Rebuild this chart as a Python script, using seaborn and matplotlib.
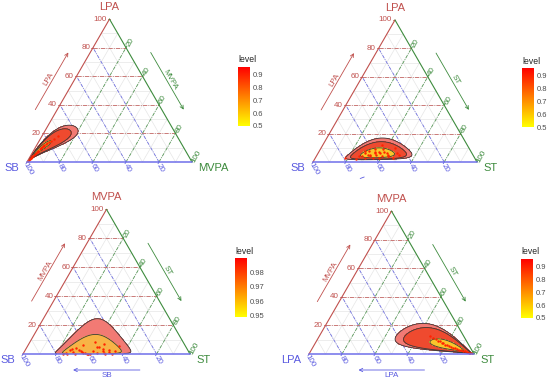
import numpy as np
import pandas as pd
import seaborn as sns
import matplotlib
matplotlib.use("Agg")
from matplotlib import pyplot as plt
from matplotlib.colors import LinearSegmentedColormap, Normalize
from matplotlib.colorbar import ColorbarBase

sns.set_theme(style="white")
plt.rcParams["font.family"] = ["Liberation Sans", "DejaVu Sans"]

# compositions in % (top part, right part; left part is the remainder)
# panel 1: SB / LPA / MVPA
lpa_1 = [1.0, 1.5, 2.0, 2.5, 3.0, 3.5, 4.0, 5.0, 5.5, 6.0, 7.0, 7.5, 8.0, 9.0, 9.5,
         10.0, 10.5, 11.0, 11.5, 12.0, 12.5, 13.0, 14.0, 15.0, 16.0, 18.0]
mvpa_1 = [0.3, 0.5, 0.6, 0.9, 0.9, 1.2, 1.3, 1.7, 1.8, 2.2, 2.4, 2.8, 2.7, 3.2, 3.6,
          3.4, 3.9, 4.2, 4.6, 4.6, 5.4, 5.4, 6.4, 7.2, 8.2, 10.0]
# panel 2: SB / LPA / ST
lpa_2 = [2, 3, 4, 3, 5, 6, 4, 7, 5, 8, 6, 4, 9, 5, 7, 3, 6, 10, 5, 8, 4, 6, 7, 12, 3, 5, 9, 6, 4, 2.5]
st_2 = [25, 30, 28, 35, 32, 38, 40, 34, 36, 30, 42, 44, 38, 31, 40, 47, 35, 45, 50, 28,
        33, 29, 37, 36, 39, 43, 33, 48, 26, 18]
# panel 3: SB / MVPA / ST
mvpa_3 = [0.3, 1.0, 2.5, 0.2, 4.0, 1.5, 0.15, 6.0, 2.0, 0.4, 3.0, 0.2, 8.0, 0.6, 2.2, 5.0,
          1.0, 0.15, 3.5, 1.8, 7.0, 0.25, 2.8, 1.4, 4.5, 0.2, 2.0, 1.1, 3.2, 0.9, 5.5, 0.3]
st_3 = [24, 25, 27, 26, 30, 29, 31, 33, 34, 36, 32, 38, 39, 37, 41, 42, 44, 40, 46, 47,
        45, 49, 50, 51, 43, 53, 54, 35, 28, 48, 55, 39]
# panel 4: LPA / MVPA / ST
lpa_4 = [1.0, 2.0, 2.5, 3.5, 4.5, 5.5, 6.5, 7.5, 8.5, 9.5, 10.5, 11.5, 12.5, 13.5, 14.0,
         15.0, 15.5, 16.5, 17.0, 18.0, 19.0, 20.0]
mvpa_4 = [0.4, 0.7, 1.0, 1.3, 1.8, 2.1, 2.6, 3.0, 3.5, 3.9, 4.4, 4.9, 5.5, 6.0, 6.6,
          7.4, 8.0, 8.8, 9.4, 10.4, 11.4, 12.8]

ticks = [20, 40, 60, 80, 100]
level_ticks_a = [0.5, 0.6, 0.7, 0.8, 0.9]
level_ticks_b = [0.95, 0.96, 0.97, 0.98]

H = np.sqrt(3) / 2
RED, GREEN, BLUE = "#C0504D", "#3D8B3D", "#5A5AE0"
BW_ADJ = 2.2

top_p, right_p = np.array(lpa_1), np.array(mvpa_1)
p1 = dict(left=100 - top_p - right_p, top=top_p, right=right_p)
top_p, right_p = np.array(lpa_2), np.array(st_2)
p2 = dict(left=100 - top_p - right_p, top=top_p, right=right_p)
top_p, right_p = np.array(mvpa_3), np.array(st_3)
p3 = dict(left=100 - top_p - right_p, top=top_p, right=right_p)
left_p, top_p = np.array(lpa_4), np.array(mvpa_4)
p4 = dict(left=left_p, top=top_p, right=100 - left_p - top_p)

panels = [
    dict(data=p1, x0=27, y0=162, s=165, names=("SB", "LPA", "MVPA"), arrow=None,
         cuts=[0.30, 0.40, 0.82], cols=["#F27A74", "#EF4A2F", "#F9C62B"],
         cbar=(238, 67, 12, 59), lev=level_ticks_a, lim=(0.5, 0.954)),
    dict(data=p2, x0=313, y0=162, s=164, names=("SB", "LPA", "ST"), arrow="tiny",
         cuts=[0.18, 0.30, 0.65], cols=["#F27A74", "#EF4A2F", "#F9C62B"],
         cbar=(522, 68, 12, 59), lev=level_ticks_a, lim=(0.5, 0.954)),
    dict(data=p3, x0=23, y0=354, s=167, names=("SB", "MVPA", "ST"), arrow="SB",
         cuts=[0.28, 0.50], cols=["#F27A74", "#F8B446"],
         cbar=(235, 258, 12, 59), lev=level_ticks_b, lim=(0.9493, 0.99)),
    dict(data=p4, x0=309, y0=354, s=165, names=("LPA", "MVPA", "ST"), arrow="LPA",
         cuts=[0.32, 0.42, 0.80], cols=["#F27A74", "#EF4A2F", "#F9C62B"],
         cbar=(521, 259, 12, 59), lev=level_ticks_a, lim=(0.5, 0.954)),
]


def ilr(left, top, right):
    z1 = np.sqrt(0.5) * np.log(right / left)
    z2 = np.sqrt(2 / 3) * np.log(top / np.sqrt(left * right))
    return z1, z2


def bw(v):
    q75, q25 = np.percentile(v, [75, 25])
    return BW_ADJ * 1.06 * min(np.std(v, ddof=1), (q75 - q25) / 1.34) * len(v) ** -0.2


def pt(p, top, right):
    return p["x0"] + p["s"] * (right + top / 2), p["y0"] - p["s"] * H * top


fig = plt.figure(figsize=(5.5, 3.83), dpi=100)
ax = fig.add_axes([0, 0, 1, 1])
cmap = LinearSegmentedColormap.from_list("lev", ["#FFFF00", "#FF0000"])

for p in panels:
    x0, y0, s = p["x0"], p["y0"], p["s"]
    # background grid every 10
    for v in np.arange(0.1, 1.0, 0.1):
        for a, b in [(pt(p, v, 0), pt(p, v, 1 - v)), (pt(p, 0, v), pt(p, 1 - v, v)),
                     (pt(p, 0, 1 - v), pt(p, 1 - v, 0))]:
            ax.plot([a[0], b[0]], [a[1], b[1]], color="#E6E6E6", lw=0.5, zorder=1)
    # major grid
    for t in ticks[:-1]:
        v = t / 100
        a, b = pt(p, v, 0), pt(p, v, 1 - v)
        ax.plot([a[0], b[0]], [a[1], b[1]], color=RED, lw=0.6, ls=(0, (5, 1.5, 1, 1.5)), alpha=0.85, zorder=1.5)
        a, b = pt(p, 0, v), pt(p, 1 - v, v)
        ax.plot([a[0], b[0]], [a[1], b[1]], color=GREEN, lw=0.6, ls=(0, (4, 1.5, 1, 1.5)), alpha=0.85, zorder=1.5)
        a, b = pt(p, 0, 1 - v), pt(p, 1 - v, 0)
        ax.plot([a[0], b[0]], [a[1], b[1]], color=BLUE, lw=0.6, ls=(0, (4, 1.5, 1, 1.5)), alpha=0.85, zorder=1.5)

    # density in log-ratio space, contoured on the triangle
    d = p["data"]
    z1, z2 = ilr(d["left"], d["top"], d["right"])
    h1, h2 = bw(z1), bw(z2)
    xs = np.linspace(x0, x0 + s, 420)
    ys = np.linspace(y0 - s * H, y0, 370)
    X, Y = np.meshgrid(xs, ys)
    T = (y0 - Y) / (s * H)
    R = (X - x0) / s - T / 2
    L = 1 - T - R
    inside = (T > 1e-7) & (R > 1e-7) & (L > 1e-7)
    g1, g2 = ilr(np.clip(L, 1e-7, 1), np.clip(T, 1e-7, 1), np.clip(R, 1e-7, 1))
    D = np.zeros_like(X)
    for a, b in zip(z1, z2):
        D += np.exp(-0.5 * ((g1 - a) / h1) ** 2 - 0.5 * ((g2 - b) / h2) ** 2)
    D = D / D[inside].max()
    D = np.ma.masked_where(~inside, D)
    ax.contourf(X, Y, D, levels=p["cuts"] + [1.01], colors=p["cols"], zorder=2)
    ax.contour(X, Y, D, levels=p["cuts"], colors="#3A3A3A", linewidths=0.6, zorder=3)

    px, py = pt(p, d["top"] / 100, d["right"] / 100)
    sns.scatterplot(x=px, y=py, ax=ax, color="#FF2200", s=3, linewidth=0, legend=False, zorder=4)

    # frame
    bl, tp, br = pt(p, 0, 0), pt(p, 1, 0), pt(p, 0, 1)
    ax.plot([bl[0], tp[0]], [bl[1], tp[1]], color=RED, lw=0.8, zorder=5)
    ax.plot([tp[0], br[0]], [tp[1], br[1]], color=GREEN, lw=0.8, zorder=5)
    ax.plot([bl[0], br[0]], [bl[1], br[1]], color="#6F6FEA", lw=1.1, zorder=5)

    # tick labels
    for t in ticks:
        v = t / 100
        ex, ey = pt(p, v, 0)
        ax.plot([ex - 2, ex], [ey, ey], color=RED, lw=0.6)
        ax.text(ex - 3, ey, str(t), color=RED, fontsize=5.8, ha="right", va="center")
        ex, ey = pt(p, 1 - v, v)
        ax.plot([ex, ex + 1], [ey, ey - 1.7], color=GREEN, lw=0.6)
        ax.text(ex + 4, ey - 5, str(t), color=GREEN, fontsize=5.8, ha="center", va="center", rotation=60)
        ex, ey = pt(p, 0, 1 - v)
        ax.plot([ex, ex - 1], [ey, ey + 1.7], color=BLUE, lw=0.6)
        ax.text(ex + 1, ey + 6.5, str(t), color=BLUE, fontsize=5.8, ha="center", va="center", rotation=-60)

    # vertex names
    ln, tn, rn = p["names"]
    ax.text(tp[0], tp[1] - 12, tn, color=RED, fontsize=8, ha="center", va="center")
    ax.text(bl[0] - 8, bl[1] + 6, ln, color=BLUE, fontsize=8, ha="right", va="center")
    ax.text(br[0] + 6, br[1] + 6, rn, color=GREEN, fontsize=8, ha="left", va="center")

    # side arrows
    off = 19
    nl = np.array([-H, -0.5])
    a = np.array(pt(p, 0.3, 0)) + off * nl
    b = np.array(pt(p, 0.7, 0)) + off * nl
    ax.annotate("", xy=b, xytext=a, arrowprops=dict(arrowstyle="->", color=RED, lw=0.6,
                shrinkA=0, shrinkB=0, mutation_scale=6))
    m = np.array(pt(p, 0.5, 0)) + (off + 3.5) * nl
    ax.text(m[0], m[1], tn, color=RED, fontsize=5.8, ha="center", va="center", rotation=60)
    nr = np.array([H, -0.5])
    a = np.array(pt(p, 0.7, 0.3)) + off * nr
    b = np.array(pt(p, 0.3, 0.7)) + off * nr
    ax.annotate("", xy=b, xytext=a, arrowprops=dict(arrowstyle="->", color=GREEN, lw=0.6,
                shrinkA=0, shrinkB=0, mutation_scale=6))
    m = np.array(pt(p, 0.5, 0.5)) + (off + 3.5) * nr
    ax.text(m[0], m[1], rn, color=GREEN, fontsize=5.8, ha="center", va="center", rotation=-60)
    if p["arrow"] == "tiny":
        ax.plot([x0 + 0.3 * s - 2, x0 + 0.3 * s + 2], [y0 + 16.5, y0 + 15], color=BLUE, lw=0.6)
    elif p["arrow"]:
        ax.annotate("", xy=(x0 + 0.3 * s, y0 + 16), xytext=(x0 + 0.7 * s, y0 + 16),
                    arrowprops=dict(arrowstyle="->", color=BLUE, lw=0.6, shrinkA=0, shrinkB=0, mutation_scale=6))
        ax.text(x0 + 0.5 * s, y0 + 21.5, p["arrow"], color=BLUE, fontsize=5.8, ha="center", va="center")

    # legend
    cx, cy, cw, ch = p["cbar"]
    cax = fig.add_axes([cx / 550, 1 - (cy + ch) / 383, cw / 550, ch / 383])
    cb = ColorbarBase(cax, cmap=cmap, norm=Normalize(*p["lim"]), orientation="vertical")
    cb.set_ticks(p["lev"])
    cb.set_ticklabels([f"{v:g}" for v in p["lev"]])
    cb.outline.set_visible(False)
    cax.tick_params(axis="y", direction="in", color="white", length=2.5, width=0.6,
                    labelcolor="#4D4D4D", labelsize=5.5, pad=2, left=True, right=True)
    ax.text(cx, cy - 7, "level", fontsize=6.2, color="#222222", ha="left", va="center")

ax.set_xlim(0, 550)
ax.set_ylim(383, 0)
ax.axis("off")
fig.savefig("out.png", dpi=100)
